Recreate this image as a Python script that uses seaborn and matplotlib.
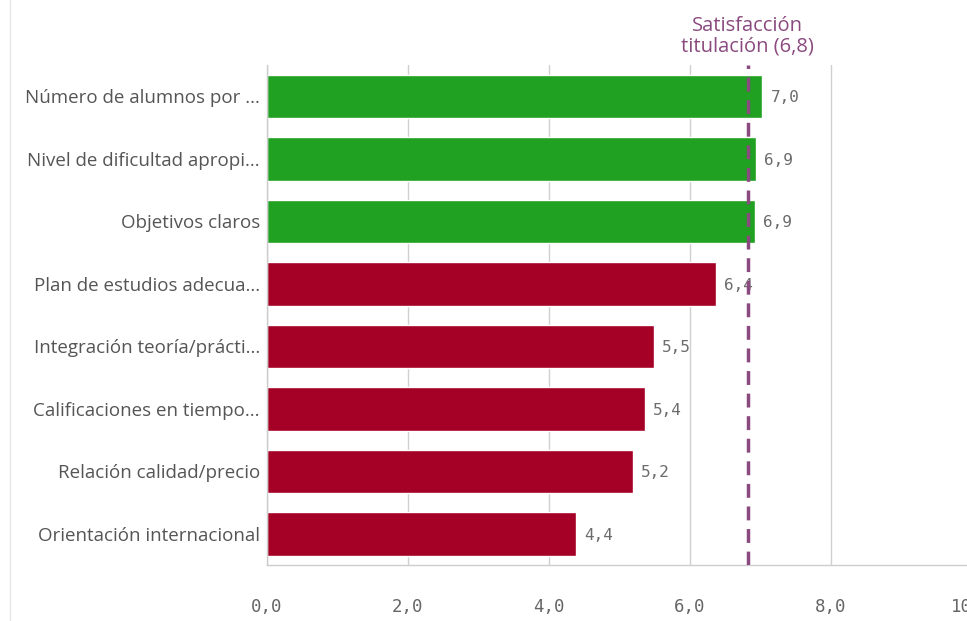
import numpy as np
import pandas as pd
import matplotlib.pyplot as plt
import seaborn as sns

# values
categories = [
    "Número de alumnos por ...",
    "Nivel de dificultad apropi...",
    "Objetivos claros",
    "Plan de estudios adecua...",
    "Integración teoría/prácti...",
    "Calificaciones en tiempo...",
    "Relación calidad/precio",
    "Orientación internacional",
]
scores = [7.03, 6.94, 6.92, 6.37, 5.49, 5.36, 5.19, 4.38]
reference_value = 6.82
reference_label = "Satisfacción\ntitulación (6,8)"
x_ticks = [0, 2, 4, 6, 8, 10]

green = "#21a121"
red = "#a50026"
purple = "#8a4a7f"

df = pd.DataFrame({"category": categories, "score": scores})
palette = [green if s >= reference_value else red for s in scores]

sns.set_style("white")
plt.rcParams["font.family"] = ["Open Sans", "DejaVu Sans"]

fig = plt.figure(figsize=(9.67, 6.21), dpi=100)
ax = fig.add_axes([0.276, 0.090, 0.729, 0.805])

sns.barplot(data=df, x="score", y="category", hue="category", palette=palette,
            orient="h", width=0.7, saturation=1, legend=False, ax=ax, zorder=2)

ax.set_xlim(0, 10)
ax.set_ylim(7.5, -0.5)
ax.set_xticks(x_ticks)
ax.set_xticklabels([f"{t:.1f}".replace(".", ",") for t in x_ticks],
                   family="DejaVu Sans Mono", fontsize=12.5, color="#666666")
ax.tick_params(axis="x", length=10, width=1, color="#cccccc", pad=14)
ax.tick_params(axis="y", length=0, pad=5, labelsize=13.5, labelcolor="#555555")
ax.set_xlabel("")
ax.set_ylabel("")

ax.grid(axis="x", color="#d0d0d0", linewidth=1, zorder=0)
ax.set_axisbelow(True)
for side in ["top", "right"]:
    ax.spines[side].set_visible(False)
for side in ["left", "bottom"]:
    ax.spines[side].set_color("#cccccc")
    ax.spines[side].set_linewidth(1)

# value labels next to each bar
for i, s in enumerate(scores):
    ax.annotate(f"{s:.1f}".replace(".", ","), xy=(s, i), xytext=(6, -1),
                textcoords="offset points", va="center", ha="left",
                family="DejaVu Sans Mono", fontsize=11.5, color="#6b6b6b")

# reference line
ax.axvline(reference_value, color=purple, linestyle=(0, (4, 2.5)), linewidth=2.5, zorder=3)
ax.annotate(reference_label, xy=(reference_value, 1.0), xycoords=("data", "axes fraction"),
            xytext=(0, 6), textcoords="offset points", ha="center", va="bottom",
            fontsize=14.5, color=purple, linespacing=1.05, annotation_clip=False)

# faint panel border on the far left
fig.add_artist(plt.Line2D([10 / 967, 10 / 967], [0, 1], color="#e6e6e6", linewidth=1))

fig.savefig("out.png", dpi=100)
